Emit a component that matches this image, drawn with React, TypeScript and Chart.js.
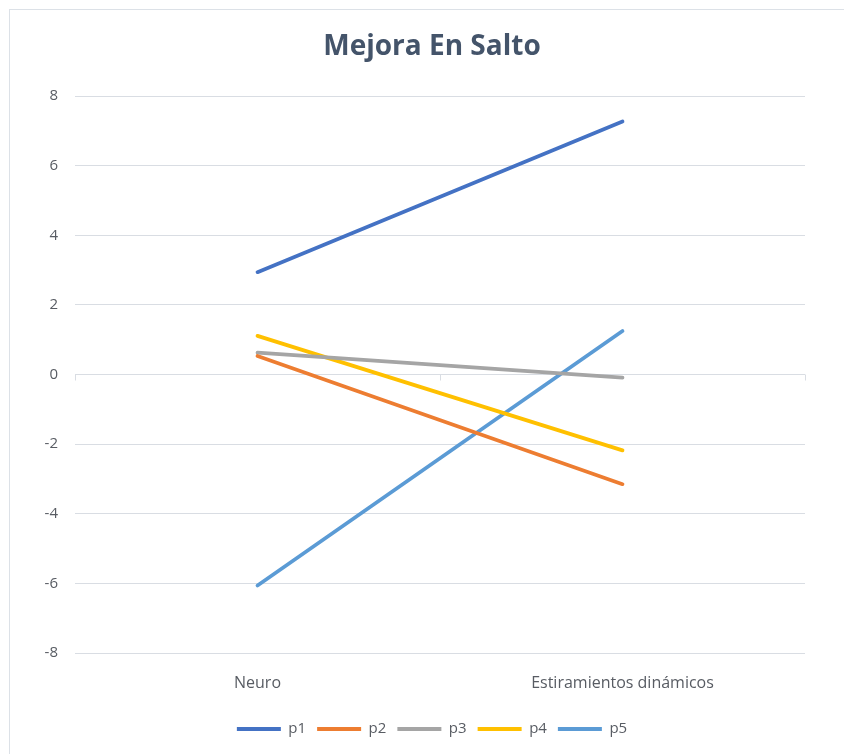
import React, { useEffect, useRef } from "react";
import { Chart, registerables } from "chart.js";

Chart.register(...registerables);

// Chart data
const chartTitle = "Mejora En Salto";
const categories = ["Neuro", "Estiramientos dinámicos"];
const seriesNames = ["p1", "p2", "p3", "p4", "p5"];
const p1 = [2.94, 7.27];
const p2 = [0.53, -3.15];
const p3 = [0.63, -0.09];
const p4 = [1.11, -2.18];
const p5 = [-6.06, 1.25];
const seriesValues = [p1, p2, p3, p4, p5];
const seriesColors = ["#4472C4", "#ED7D31", "#A5A5A5", "#FFC000", "#5B9BD5"];
const yMin = -8;
const yMax = 8;
const yStep = 2;

const FONT = "'Open Sans', 'Liberation Sans', sans-serif";
const TEXT_COLOR = "#585C63";
const GRID_COLOR = "#D9DDE3";

// Small tick marks on the horizontal axis line (at y = 0), between categories
const axisTicks = {
  id: "axisTicks",
  beforeDatasetsDraw(chart: any) {
    const x = chart.scales.x;
    const y = chart.scales.y;
    const y0 = y.getPixelForValue(0);
    const n = categories.length;
    const marks: number[] = [];
    for (let i = 0; i <= n; i++) {
      marks.push(x.getPixelForValue(i - 0.5));
    }
    const ctx = chart.ctx;
    ctx.save();
    ctx.strokeStyle = GRID_COLOR;
    ctx.lineWidth = 1;
    ctx.beginPath();
    for (const px of marks) {
      const xx = Math.round(px) + 0.5;
      ctx.moveTo(xx, y0);
      ctx.lineTo(xx, y0 + 6);
    }
    ctx.stroke();
    ctx.restore();
  },
};

export default function App() {
  const canvasRef = useRef<HTMLCanvasElement | null>(null);

  useEffect(() => {
    if (!canvasRef.current) return;
    const chart = new Chart(canvasRef.current, {
      type: "line",
      data: {
        labels: categories,
        datasets: seriesNames.map((name, i) => ({
          label: name,
          data: seriesValues[i],
          borderColor: seriesColors[i],
          backgroundColor: seriesColors[i],
          borderWidth: 3.75,
          borderCapStyle: "round" as const,
          pointRadius: 0,
          tension: 0,
          fill: false,
        })),
      },
      options: {
        animation: false,
        responsive: false,
        maintainAspectRatio: false,
        layout: { padding: { left: 20, right: 0, top: 10, bottom: 7.5 } },
        plugins: {
          title: {
            display: true,
            text: chartTitle,
            color: "#44546A",
            font: { family: FONT, size: 28, weight: "bold", lineHeight: 1.2 },
            padding: { top: 20, bottom: 32.4 },
          },
          legend: {
            position: "bottom",
            labels: {
              boxWidth: 44,
              boxHeight: 4,
              padding: 11,
              color: TEXT_COLOR,
              font: { family: FONT, size: 15 },
              generateLabels: (c: any) =>
                Chart.defaults.plugins.legend.labels
                  .generateLabels(c)
                  .map((l: any) => ({ ...l, lineWidth: 0, fillStyle: l.strokeStyle })),
            },
          },
          tooltip: { enabled: false },
        },
        scales: {
          x: {
            offset: true,
            grid: { display: false },
            border: { display: false },
            ticks: { color: TEXT_COLOR, font: { family: FONT, size: 16 }, padding: 13, maxRotation: 0 },
            afterFit: (s: any) => {
              s.height = 57.5;
            },
          },
          y: {
            min: yMin,
            max: yMax,
            ticks: { stepSize: yStep, color: TEXT_COLOR, font: { family: FONT, size: 15 }, padding: 17 },
            grid: { color: GRID_COLOR, drawTicks: false, lineWidth: 1 },
            border: { display: false },
            afterFit: (s: any) => {
              s.width = 55;
            },
          },
          yRight: {
            position: "right",
            display: true,
            grid: { display: false },
            border: { display: false },
            ticks: { display: false },
            afterFit: (s: any) => {
              s.width = 39;
            },
          },
        },
      },
      plugins: [axisTicks],
    });
    return () => chart.destroy();
  }, []);

  return (
    <div
      style={{
        position: "fixed",
        left: 0,
        top: 0,
        width: 844,
        height: 754,
        background: "#ffffff",
        overflow: "hidden",
      }}
    >
      <canvas ref={canvasRef} width={844} height={754} style={{ position: "absolute", left: 0, top: 0 }} />
      <div
        style={{
          position: "absolute",
          left: 9,
          top: 9,
          width: 900,
          height: 900,
          borderLeft: "1.5px solid #DCE1E7",
          borderTop: "1.5px solid #DCE1E7",
          pointerEvents: "none",
        }}
      />
    </div>
  );
}
